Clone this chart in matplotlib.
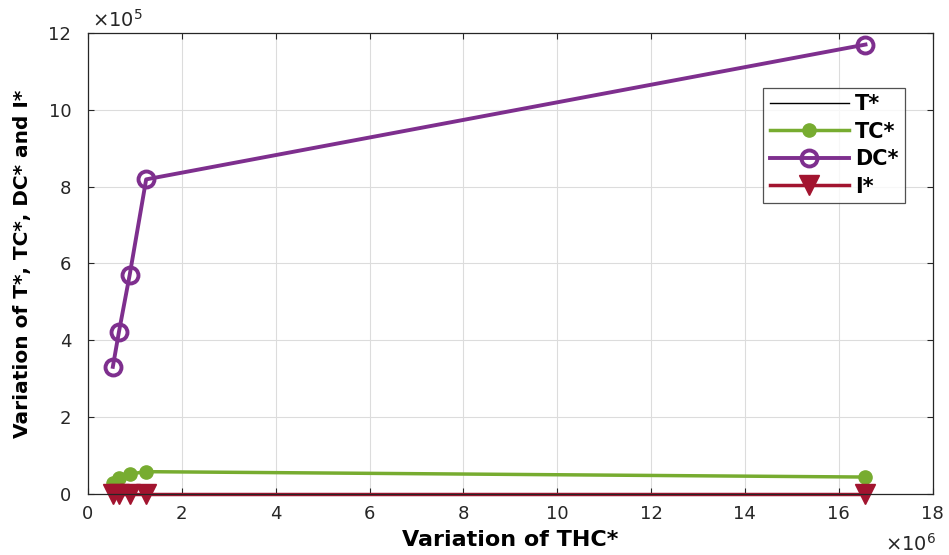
import matplotlib
matplotlib.use("Agg")
import matplotlib.pyplot as plt
from matplotlib.ticker import ScalarFormatter, MultipleLocator

plt.rcParams['font.family'] = ['DejaVu Sans']
plt.rcParams['mathtext.fontset'] = 'dejavusans'

# THC* on the x axis and the four responses
thc = [0.53e6, 0.66e6, 0.89e6, 1.24e6, 16.57e6]
t_star = [0.0, 0.0, 0.0, 0.0, 0.0]
tc_star = [0.29e5, 0.42e5, 0.52e5, 0.58e5, 0.44e5]
dc_star = [3.31e5, 4.22e5, 5.71e5, 8.19e5, 11.70e5]
i_star = [0.0, 0.0, 0.0, 0.0, 0.0]

X_ORDER = 6
Y_ORDER = 5


class FixedOrderFormatter(ScalarFormatter):
    """Scalar formatter with a fixed power-of-ten multiplier."""

    def __init__(self, order):
        super().__init__(useMathText=True)
        self._fixed_order = order

    def _set_order_of_magnitude(self):
        self.orderOfMagnitude = self._fixed_order

    def _set_format(self):
        self.format = '%d'


fig = plt.figure(figsize=(9.49, 5.55), dpi=100)
ax = fig.add_axes([0.0927, 0.110, 0.890, 0.8305])

ax.plot(thc, t_star, color='black', lw=1.0, label='T*')
ax.plot(thc, tc_star, color='#77AC30', lw=2.5, marker='o', ms=9.5,
        mfc='#77AC30', mec='#77AC30', label='TC*')
ax.plot(thc, dc_star, color='#7E2F8E', lw=2.8, marker='o', ms=11.5,
        mfc='none', mec='#7E2F8E', mew=2.8, label='DC*')
ax.plot(thc, i_star, color='#A2142F', lw=2.5, marker='v', ms=14,
        mfc='#A2142F', mec='#A2142F', label='I*', clip_on=False)

ax.set_xlim(0, 18e6)
ax.set_ylim(0, 12e5)
ax.xaxis.set_major_locator(MultipleLocator(2e6))
ax.yaxis.set_major_locator(MultipleLocator(2e5))
ax.xaxis.set_major_formatter(FixedOrderFormatter(X_ORDER))
ax.yaxis.set_major_formatter(FixedOrderFormatter(Y_ORDER))
ax.xaxis.get_offset_text().set_visible(False)
ax.yaxis.get_offset_text().set_visible(False)

ax.grid(True, color='#dcdcdc', lw=0.8)
ax.set_axisbelow(True)
ax.tick_params(labelsize=13, direction='in', length=4, color='#262626',
               labelcolor='#262626', top=True, right=True)
ax.tick_params(axis='x', pad=8)
ax.tick_params(axis='y', pad=12)
for s in ax.spines.values():
    s.set_color('#262626')
    s.set_linewidth(0.9)

# power-of-ten multipliers for both axes
fig.text(0.097, 1 - 27 / 555, r'$\times\mathdefault{10^{%d}}$' % Y_ORDER,
         fontsize=14, color='#262626', ha='left', va='baseline')
fig.text(0.986, 1 - 551 / 555, r'$\times\mathdefault{10^{%d}}$' % X_ORDER,
         fontsize=14, color='#262626', ha='right', va='baseline')

ax.set_xlabel('Variation of THC*', fontsize=16, fontweight='bold', labelpad=5)
ax.set_ylabel('Variation of T*, TC*, DC* and I*', fontsize=14.5,
              fontweight='bold', labelpad=12)

leg = ax.legend(loc='upper right', bbox_to_anchor=(0.967, 0.881),
                borderaxespad=0,
                prop={'weight': 'bold', 'size': 15}, frameon=True,
                fancybox=False, edgecolor='#262626', handlelength=3.8,
                borderpad=0.3, labelspacing=0.36, handletextpad=0.3)
leg.get_frame().set_linewidth(0.9)

fig.savefig('out.png', dpi=100)
